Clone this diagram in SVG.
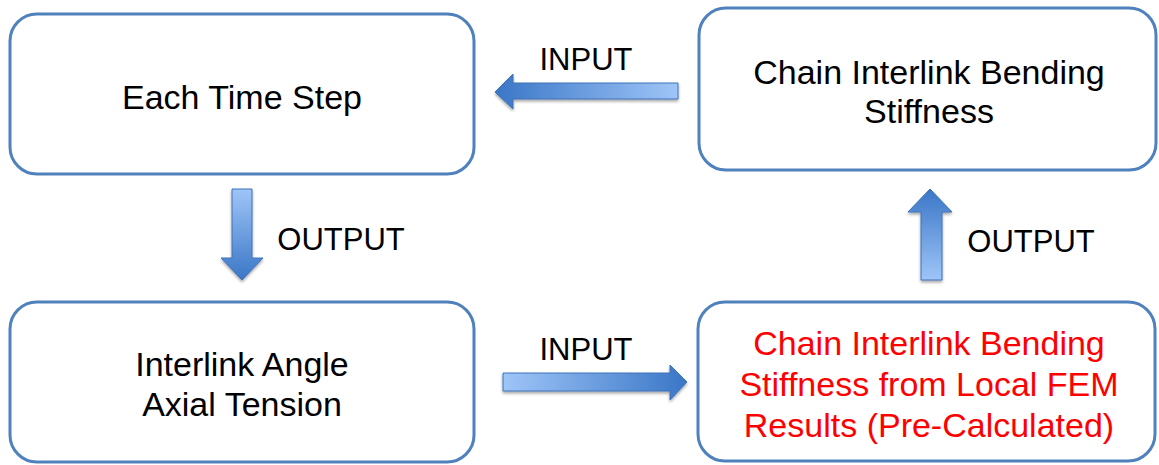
<svg xmlns="http://www.w3.org/2000/svg" width="1159" height="465" viewBox="0 0 1159 465">
  <style>
    .box { fill: #ffffff; stroke: #4F81BD; stroke-width: 3; }
    .t { font-family: "Liberation Sans", Arial, sans-serif; font-size: 34px; fill: #000000; text-anchor: middle; }
    .lbl { font-size: 31px; }
    .red { fill: #FF0000; }
    .arrow { stroke: #3E72B8; stroke-width: 1; filter: url(#sh); }
  </style>
  <defs>
    <linearGradient id="gL" x1="0" y1="0" x2="1" y2="0">
      <stop offset="0" stop-color="#3A76C6"/>
      <stop offset="1" stop-color="#9FC5F8"/>
    </linearGradient>
    <linearGradient id="gR" x1="1" y1="0" x2="0" y2="0">
      <stop offset="0" stop-color="#3A76C6"/>
      <stop offset="1" stop-color="#9FC5F8"/>
    </linearGradient>
    <linearGradient id="gD" x1="0" y1="1" x2="0" y2="0">
      <stop offset="0" stop-color="#3A76C6"/>
      <stop offset="1" stop-color="#9FC5F8"/>
    </linearGradient>
    <linearGradient id="gU" x1="0" y1="0" x2="0" y2="1">
      <stop offset="0" stop-color="#3A76C6"/>
      <stop offset="1" stop-color="#9FC5F8"/>
    </linearGradient>
    <filter id="sh" x="-20%" y="-20%" width="140%" height="140%">
      <feGaussianBlur in="SourceAlpha" stdDeviation="1.5"/>
      <feOffset dx="0" dy="2" result="b"/>
      <feComponentTransfer><feFuncA type="linear" slope="0.35"/></feComponentTransfer>
      <feMerge><feMergeNode/><feMergeNode in="SourceGraphic"/></feMerge>
    </filter>
  </defs>

  <g id="node-each-time-step">
    <rect class="box" x="10" y="14" width="464" height="160" rx="27"/>
    <text class="t" x="242" y="109">Each Time Step</text>
  </g>

  <g id="node-bending-stiffness">
    <rect class="box" x="699" y="8" width="457" height="162" rx="27"/>
    <text class="t" x="929" y="84">Chain Interlink Bending</text>
    <text class="t" x="929" y="123">Stiffness</text>
  </g>

  <g id="node-interlink-angle">
    <rect class="box" x="10" y="302" width="464" height="160" rx="27"/>
    <text class="t" x="242" y="376">Interlink Angle</text>
    <text class="t" x="242" y="416">Axial Tension</text>
  </g>

  <g id="node-fem-results">
    <rect class="box" x="698" y="302" width="457" height="159" rx="27"/>
    <text class="t red" x="929" y="355">Chain Interlink Bending</text>
    <text class="t red" x="929" y="396">Stiffness from Local FEM</text>
    <text class="t red" x="929" y="437">Results (Pre-Calculated)</text>
  </g>

  <g id="connectors">
    <path class="arrow" fill="url(#gL)" d="M678,83 L513,83 L513,74 L495,92 L513,109 L513,99 L678,99 Z"/>
    <text class="t lbl" x="586" y="70">INPUT</text>

    <path class="arrow" fill="url(#gD)" d="M232,189 L252,189 L252,258 L263,258 L242,280 L221,258 L232,258 Z"/>
    <text class="t lbl" x="341" y="250">OUTPUT</text>

    <path class="arrow" fill="url(#gR)" d="M503,373 L670,373 L670,365 L687,382 L670,400 L670,391 L503,391 Z"/>
    <text class="t lbl" x="586" y="360">INPUT</text>

    <path class="arrow" fill="url(#gU)" d="M921,280 L942,280 L942,212 L952,212 L930,189 L908,212 L921,212 Z"/>
    <text class="t lbl" x="1031" y="252">OUTPUT</text>
  </g>
</svg>
